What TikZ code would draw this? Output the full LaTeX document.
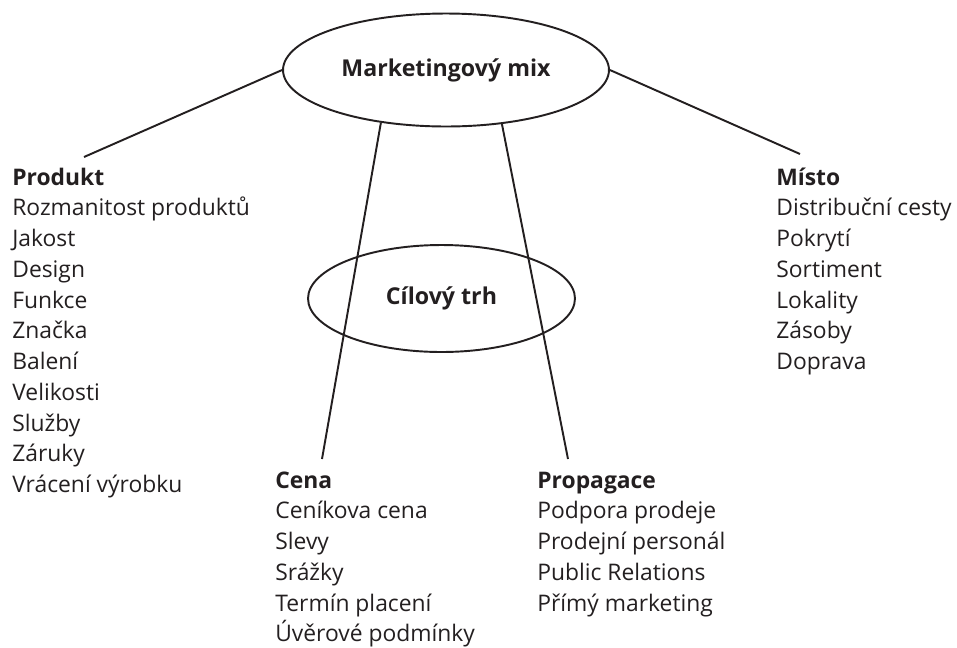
\documentclass[tikz,border=0pt]{standalone}
\usepackage{fontspec}
\setmainfont{Open Sans}
\usetikzlibrary{shapes.geometric}
\definecolor{ink}{HTML}{231F20}

\tikzset{
  oval/.style={draw=ink, line width=1.1pt, ellipse, inner sep=0pt, text=ink,
    font=\bfseries\fontsize{13.2}{15}\selectfont},
  head/.style={anchor=base west, inner sep=0pt, text=ink,
    font=\bfseries\fontsize{13}{15}\selectfont},
  item/.style={anchor=base west, inner sep=0pt, text=ink,
    font=\fontsize{13}{15}\selectfont},
  spoke/.style={draw=ink, line width=1.1pt}
}

\begin{document}
\begin{tikzpicture}[x=0.02cm,y=-0.02cm]
\useasboundingbox (0,0) rectangle (957,647);

\node[oval, minimum width=6.52cm, minimum height=2.26cm] (mix) at (446,70) {Marketingový mix};
\node[oval, minimum width=5.34cm, minimum height=2.14cm] (trh) at (441.5,298.5) {Cílový trh};

% headings
\node[head] (produkt) at (12,185) {Produkt};
\node[head] (misto) at (776,185) {Místo};
\node[head] (cena) at (275,488) {Cena};
\node[head] (propagace) at (537,488) {Propagace};

% lists
\def\dy{30.75}
\foreach \t [count=\i] in {Rozmanitost produktů, Jakost, Design, Funkce, Značka,
  Balení, Velikosti, Služby, Záruky, Vrácení výrobku}
\node[item] (produkt-\i) at (12,{185+\dy*\i}) {\t};

\foreach \t [count=\i] in {Distribuční cesty, Pokrytí, Sortiment, Lokality, Zásoby, Doprava}
\node[item] (misto-\i) at (776,{185+\dy*\i}) {\t};

\foreach \t [count=\i] in {Ceníkova cena, Slevy, Srážky, Termín placení, Úvěrové podmínky}
\node[item] (cena-\i) at (275,{488+\dy*\i}) {\t};

\foreach \t [count=\i] in {Podpora prodeje, Prodejní personál, Public Relations, Přímý marketing}
\node[item] (propagace-\i) at (537,{488+\dy*\i}) {\t};

% spokes
\coordinate (produkt-end) at (84,157);
\coordinate (misto-end) at (800,154);
\coordinate (cena-end) at (322,459);
\coordinate (propagace-end) at (568,459);

\draw[spoke] (mix.west) -- (produkt-end);
\draw[spoke] (mix.east) -- (misto-end);
\draw[spoke] (mix.219) -- (cena-end);
\draw[spoke] (mix.316.5) -- (propagace-end);

\end{tikzpicture}
\end{document}
